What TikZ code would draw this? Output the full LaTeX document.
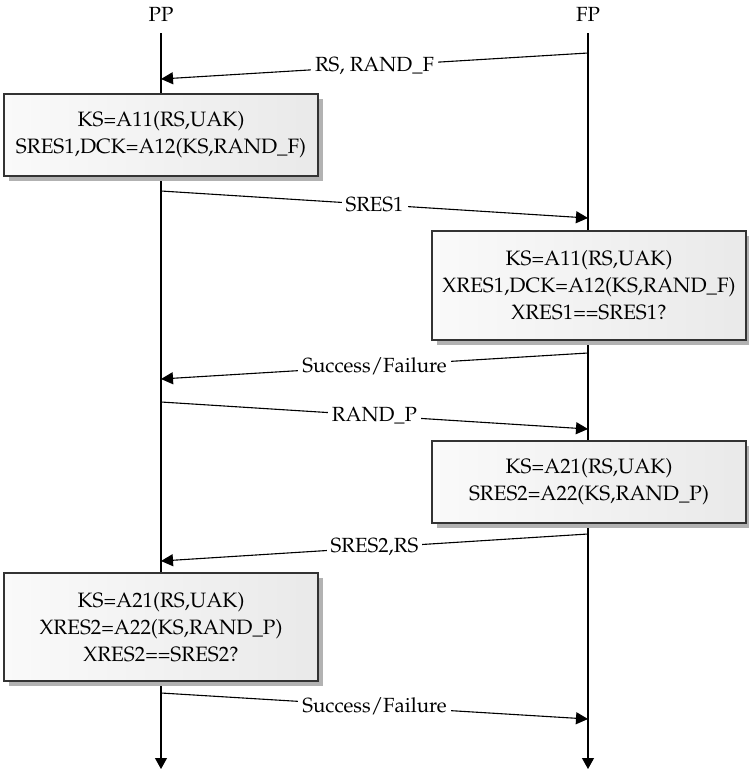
\documentclass[tikz,border=0pt]{standalone}
\usepackage[T1]{fontenc}
\renewcommand{\rmdefault}{ppl}
\usetikzlibrary{arrows.meta,shadows}
\tikzset{
  life/.style={line width=1.1pt,-{Triangle[length=11pt,width=12pt]}},
  msg/.style={line width=1.1pt,-{Triangle[length=12pt,width=12pt]}},
  lbl/.style={midway,fill=white,inner sep=4pt,font=\fontsize{20.5}{24}\selectfont},
  head/.style={font=\fontsize{20.5}{24}\selectfont},
  procbox/.style={draw=black!80,line width=1.1pt,left color=gray!4,right color=gray!17,
    minimum width=314pt,align=center,inner sep=0pt,
    font=\fontsize{20.8}{27}\selectfont,
    drop shadow={shadow xshift=5pt,shadow yshift=-5pt,fill=gray!60,opacity=1}}
}
\begin{document}
\begin{tikzpicture}[x=1pt,y=-1pt]
\useasboundingbox (0,0) rectangle (749,772);
% headings
\node[head] (PP) at (161,14) {PP};
\node[head] (FP) at (588,14) {FP};
\coordinate (PPtop) at (161,33);
\coordinate (FPtop) at (588,33);
\coordinate (PPbot) at (161,769);
\coordinate (FPbot) at (588,769);
\draw[life] (PPtop) -- (PPbot);
\draw[life] (FPtop) -- (FPbot);
% message end points
\coordinate (f1) at (588,53);  \coordinate (p1) at (161,79);
\coordinate (p2) at (161,191); \coordinate (f2) at (588,218);
\coordinate (f3) at (588,353); \coordinate (p3) at (161,379);
\coordinate (p4) at (161,402); \coordinate (f4) at (588,429);
\coordinate (f5) at (588,534); \coordinate (p5) at (161,561);
\coordinate (p6) at (161,693); \coordinate (f6) at (588,719);
\draw[msg] (f1) -- node[lbl]{RS, RAND\_F} (p1);
\draw[msg] (p2) -- node[lbl]{SRES1} (f2);
\draw[msg] (f3) -- node[lbl]{Success/Failure} (p3);
\draw[msg] (p4) -- node[lbl]{RAND\_P} (f4);
\draw[msg] (f5) -- node[lbl]{SRES2,RS} (p5);
\draw[msg] (p6) -- node[lbl]{Success/Failure} (f6);
% boxes
\node[procbox,minimum height=82pt] (b1) at (161,135)
  {KS=A11(RS,UAK)\\SRES1,DCK=A12(KS,RAND\_F)};
\node[procbox,minimum height=109pt] (b2) at (589,285.5)
  {KS=A11(RS,UAK)\\XRES1,DCK=A12(KS,RAND\_F)\\XRES1==SRES1?};
\node[procbox,minimum height=82pt] (b3) at (589,482)
  {KS=A21(RS,UAK)\\SRES2=A22(KS,RAND\_P)};
\node[procbox,minimum height=108pt] (b4) at (161,627)
  {KS=A21(RS,UAK)\\XRES2=A22(KS,RAND\_P)\\XRES2==SRES2?};
\end{tikzpicture}
\end{document}
